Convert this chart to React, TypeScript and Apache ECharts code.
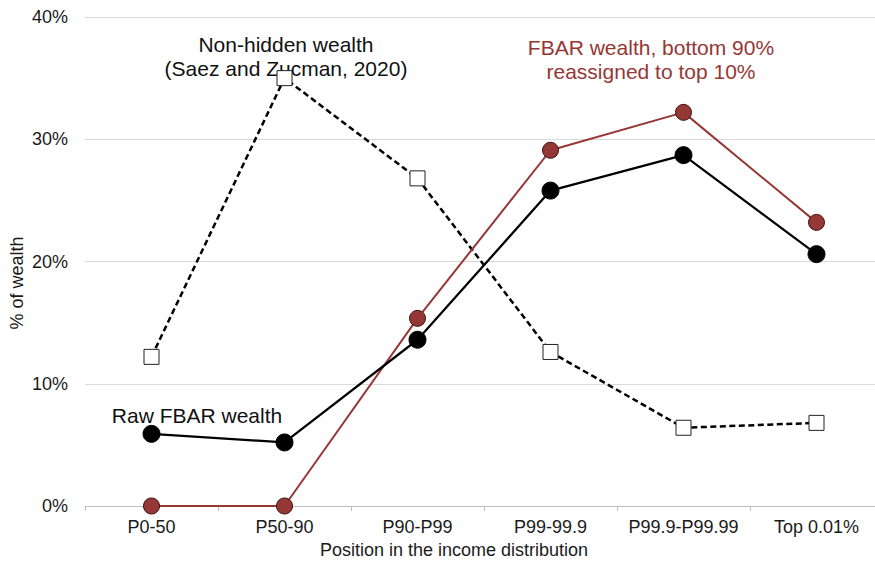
import React, { useEffect, useRef } from "react";
import * as echarts from "echarts";

const categories = ["P0-50", "P50-90", "P90-P99", "P99-99.9", "P99.9-P99.99", "Top 0.01%"];
const nonHidden = [12.2, 35.0, 26.8, 12.6, 6.4, 6.8];
const rawFbar = [5.9, 5.2, 13.6, 25.8, 28.7, 20.6];
const reassigned = [0, 0, 15.35, 29.1, 32.2, 23.2];
const yTicks = [0, 10, 20, 30, 40];

const FONT = "'Liberation Sans', Arial, sans-serif";
const RED = "#953735";

export default function App() {
  const ref = useRef<HTMLDivElement>(null);
  useEffect(() => {
    if (!ref.current) return;
    const chart = echarts.init(ref.current, null, { renderer: "svg" });
    chart.setOption({
      animation: false,
      backgroundColor: "#ffffff",
      textStyle: { fontFamily: FONT },
      grid: { left: 85, top: 17, width: 798, height: 489, containLabel: false },
      xAxis: {
        type: "category",
        data: categories,
        boundaryGap: true,
        axisLine: { lineStyle: { color: "#bfbfbf", width: 1 } },
        axisTick: { show: true, length: 5, lineStyle: { color: "#bfbfbf" } },
        axisLabel: { color: "#1a1a1a", fontSize: 18, margin: 12, interval: 0, fontFamily: FONT },
        splitLine: { show: false },
      },
      yAxis: {
        type: "value",
        min: yTicks[0],
        max: yTicks[yTicks.length - 1],
        interval: 10,
        axisLine: { show: false },
        axisTick: { show: false },
        axisLabel: {
          color: "#1a1a1a",
          fontSize: 18,
          margin: 17,
          fontFamily: FONT,
          formatter: (v: number) => `${v}%`,
        },
        splitLine: { lineStyle: { color: "#d9d9d9", width: 1 } },
      },
      graphic: [
        {
          type: "text",
          x: 17,
          y: 283,
          rotation: Math.PI / 2,
          style: {
            text: "% of wealth",
            fontSize: 18,
            fontFamily: FONT,
            fill: "#1a1a1a",
            align: "center",
            verticalAlign: "middle",
          },
        },
        {
          type: "text",
          x: 454,
          y: 550,
          style: {
            text: "Position in the income distribution",
            fontSize: 18,
            fontFamily: FONT,
            fill: "#1a1a1a",
            align: "center",
            verticalAlign: "middle",
          },
        },
        {
          type: "text",
          x: 286,
          y: 56,
          style: {
            text: "Non-hidden wealth\n(Saez and Zucman, 2020)",
            fontSize: 21,
            lineHeight: 24,
            fontFamily: FONT,
            fill: "#111",
            align: "center",
            verticalAlign: "middle",
          },
        },
        {
          type: "text",
          x: 651,
          y: 59,
          style: {
            text: "FBAR wealth, bottom 90%\nreassigned to top 10%",
            fontSize: 21,
            lineHeight: 24,
            fontFamily: FONT,
            fill: RED,
            align: "center",
            verticalAlign: "middle",
          },
        },
        {
          type: "text",
          x: 197,
          y: 415,
          style: {
            text: "Raw FBAR wealth",
            fontSize: 21,
            fontFamily: FONT,
            fill: "#111",
            align: "center",
            verticalAlign: "middle",
          },
        },
      ],
      series: [
        {
          name: "Non-hidden wealth",
          type: "line",
          data: nonHidden,
          symbol: "rect",
          symbolSize: 15,
          lineStyle: { color: "#000", width: 2.5, type: [6, 3.5] },
          itemStyle: { color: "#fff", borderColor: "#222", borderWidth: 1 },
          z: 2,
        },
        {
          name: "FBAR wealth, bottom 90% reassigned",
          type: "line",
          data: reassigned,
          symbol: "circle",
          symbolSize: 16,
          lineStyle: { color: RED, width: 2 },
          itemStyle: { color: RED, borderColor: "#3a1010", borderWidth: 1 },
          z: 3,
        },
        {
          name: "Raw FBAR wealth",
          type: "line",
          data: rawFbar,
          symbol: "circle",
          symbolSize: 17,
          lineStyle: { color: "#000", width: 2.25 },
          itemStyle: { color: "#000", borderColor: "#000", borderWidth: 1 },
          z: 4,
        },
      ],
    });
    return () => chart.dispose();
  }, []);
  return (
    <div style={{ position: "absolute", left: 0, top: 0, width: 875, height: 563, overflow: "hidden" }}>
      <div ref={ref} style={{ width: 900, height: 563 }} />
    </div>
  );
}
